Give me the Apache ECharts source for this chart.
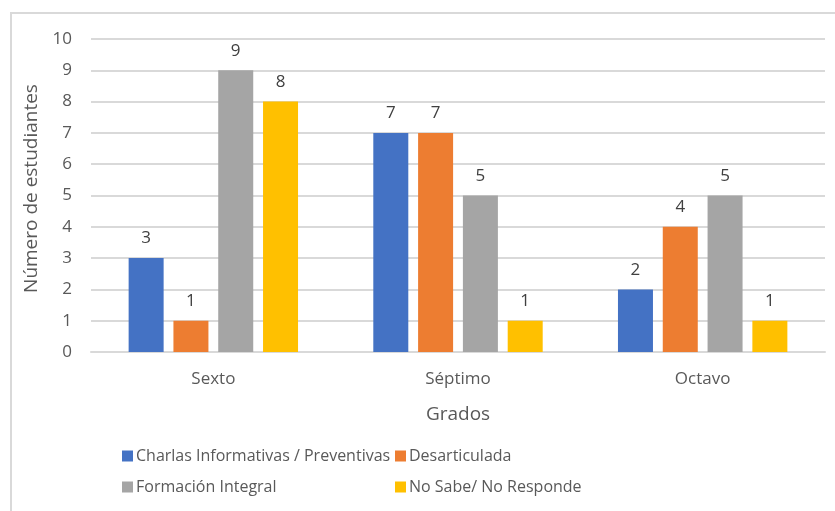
<!DOCTYPE html>
<html>
<head>
<meta charset="utf-8">
<script src="https://cdn.jsdelivr.net/npm/echarts@6/dist/echarts.min.js"></script>
<style>
html, body { margin: 0; padding: 0; background: #fff; }
#main { width: 835px; height: 511px; }
</style>
</head>
<body>
<div id="main"></div>
<script>
// datos del gráfico
var grados = ['Sexto', 'Séptimo', 'Octavo'];
var charlas = [3, 7, 2];
var desarticulada = [1, 7, 4];
var formacion = [9, 5, 5];
var noSabe = [8, 1, 1];
var yTicks = [0, 1, 2, 3, 4, 5, 6, 7, 8, 9, 10];

var fuente = '"Open Sans", "Noto Sans", sans-serif';
var gris = '#595959';

function serie(nombre, datos, color) {
    return {
        name: nombre,
        type: 'bar',
        data: datos,
        barWidth: 35,
        barGap: '28%',
        itemStyle: { color: color },
        label: {
            show: true,
            position: 'top',
            distance: 11,
            color: '#404040',
            fontSize: 17,
            fontFamily: fuente
        }
    };
}

var chart = echarts.init(document.getElementById('main'));

var option = {
    backgroundColor: '#fff',
    animation: false,
    graphic: [{
        type: 'rect',
        shape: { x: 11, y: 13, width: 840, height: 520 },
        style: { fill: 'none', stroke: '#d9d9d9', lineWidth: 2 },
        silent: true
    }],
    grid: {
        left: 91,
        right: 10,
        top: 39,
        bottom: 159,
        containLabel: false,
        outerBoundsMode: 'none'
    },
    legend: [{
        left: 117,
        top: 443,
        orient: 'vertical',
        itemGap: 15,
        itemWidth: 11,
        itemHeight: 11,
        icon: 'rect',
        textStyle: { color: gris, fontSize: 16, fontFamily: fuente, padding: [0, 0, 0, -2] },
        data: ['Charlas Informativas / Preventivas', 'Formación Integral']
    }, {
        left: 390,
        top: 443,
        orient: 'vertical',
        itemGap: 15,
        itemWidth: 11,
        itemHeight: 11,
        icon: 'rect',
        textStyle: { color: gris, fontSize: 16, fontFamily: fuente, padding: [0, 0, 0, -2] },
        data: ['Desarticulada', 'No Sabe/ No Responde']
    }],
    xAxis: {
        type: 'category',
        data: grados,
        name: 'Grados',
        nameLocation: 'middle',
        nameGap: 53,
        nameTextStyle: { color: gris, fontSize: 19, fontFamily: fuente },
        axisLine: { lineStyle: { color: '#d9d9d9', width: 2 } },
        axisTick: { show: false },
        axisLabel: { color: gris, fontSize: 17, fontFamily: fuente, margin: 19 }
    },
    yAxis: {
        type: 'value',
        min: 0,
        max: 10,
        interval: 1,
        name: 'Número de estudiantes',
        nameLocation: 'middle',
        nameGap: 50,
        nameTextStyle: { color: gris, fontSize: 19, fontFamily: fuente, padding: [0, 0, 0, 14] },
        axisLine: { show: false },
        axisTick: { show: false },
        axisLabel: {
            color: gris,
            fontSize: 17,
            fontFamily: fuente,
            margin: 19,
            formatter: function (v) { return yTicks.indexOf(v) >= 0 ? String(v) : ''; }
        },
        splitLine: { lineStyle: { color: '#d9d9d9', width: 2 } }
    },
    series: [
        serie('Charlas Informativas / Preventivas', charlas, '#4472c4'),
        serie('Desarticulada', desarticulada, '#ed7d31'),
        serie('Formación Integral', formacion, '#a5a5a5'),
        serie('No Sabe/ No Responde', noSabe, '#ffc000')
    ]
};

chart.setOption(option);
</script>
</body>
</html>
